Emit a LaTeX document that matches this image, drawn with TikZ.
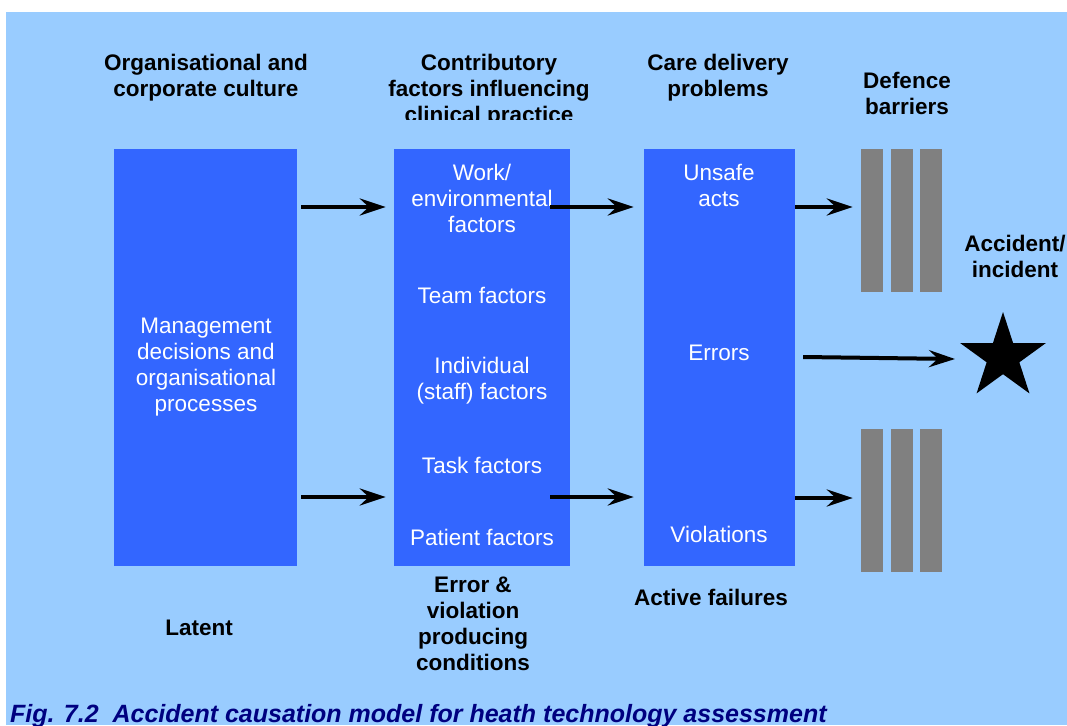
\documentclass[tikz,border=0pt]{standalone}
\usepackage{fontspec}
\setmainfont{Liberation Sans}
\usetikzlibrary{arrows.meta,shapes.geometric}
\definecolor{bgblue}{HTML}{99CCFF}
\definecolor{boxblue}{HTML}{3366FF}
\definecolor{bargray}{HTML}{808080}
\definecolor{capnavy}{HTML}{000080}
\begin{document}
\begin{tikzpicture}[x=1pt,y=-1pt,
  hdr/.style={font=\bfseries\fontsize{22.5}{26}\selectfont, align=center, inner sep=0pt},
  btxt/.style={text=white, font=\fontsize{22.5}{26}\selectfont, align=center, inner sep=0pt},
  bluebox/.style={fill=boxblue, draw=none, inner sep=0pt, minimum height=417pt},
  barrier/.style={fill=bargray, draw=none, inner sep=0pt, minimum width=22pt, minimum height=143pt},
  arr/.style={line width=4pt, -{Stealth[length=26pt,width=17pt,inset=9pt]}}
]
\useasboundingbox (0,0) rectangle (1067,725);
\fill[bgblue] (6,12) rectangle (1067,725);

% main boxes
\node[bluebox, minimum width=183pt] (L) at (205.5,357.5) {};
\node[bluebox, minimum width=176pt] (M) at (482,357.5) {};
\node[bluebox, minimum width=151pt] (C) at (719.5,357.5) {};

% barriers
\node[barrier] (b1) at (872,220.5) {};
\node[barrier] (b2) at (902,220.5) {};
\node[barrier] (b3) at (931,220.5) {};
\node[barrier] (b4) at (872,500.5) {};
\node[barrier] (b5) at (902,500.5) {};
\node[barrier] (b6) at (931,500.5) {};

% star
\node[star, star points=5, star point ratio=2.618, fill=black, draw=none,
      minimum size=90pt, inner sep=0pt] (S) at (1003,357) {};

% headers
\node[hdr] (h1) at (206,78) {Organisational and\\corporate culture};
\begin{scope}
  \clip (380,20) rectangle (600,119);
  \node[hdr] (h2) at (489,91) {Contributory\\factors influencing\\clinical practice};
\end{scope}
\node[hdr] (h3) at (718,78) {Care delivery\\problems};
\node[hdr] (h4) at (907,93) {Defence\\barriers};
\node[hdr] (h5) at (1015,256) {Accident/\\incident};
\node[hdr] (h6) at (199,628) {Latent};
\node[hdr] (h7) at (473,624) {Error \&\\violation\\producing\\conditions};
\node[hdr] (h8) at (711,597) {Active failures};

% box texts
\node[btxt] (t1) at (206,367) {Management\\decisions and\\organisational\\processes};
\node[btxt] (t2) at (482,198) {Work/\\environmental\\factors};
\node[btxt] (t3) at (482,295) {Team factors};
\node[btxt] (t4) at (482,381) {Individual\\(staff) factors};
\node[btxt] (t5) at (482,465) {Task factors};
\node[btxt] (t6) at (482,537) {Patient factors};
\node[btxt] (t7) at (719,185) {Unsafe\\acts};
\node[btxt] (t8) at (719,353) {Errors};
\node[btxt] (t9) at (719,534) {Violations};

% caption
\node[anchor=base west, inner sep=0pt, text=capnavy,
      font=\bfseries\itshape\fontsize{25}{28}\selectfont] (cap) at (10,722)
  {Fig. 7.2\ \ Accident causation model for heath technology assessment};

% arrows
\coordinate (r1) at (0,207);
\coordinate (r2) at (0,497);
\draw[arr, shorten <=4pt, shorten >=8pt] (L.east |- r1) -- (M.west |- r1);
\draw[arr, shorten <=4pt, shorten >=8pt] (L.east |- r2) -- (M.west |- r2);
\draw[arr, shorten <=-20pt, shorten >=10pt] (M.east |- r1) -- (C.west |- r1);
\draw[arr, shorten <=-20pt, shorten >=10pt] (M.east |- r2) -- (C.west |- r2);
\draw[arr, shorten >=8pt] (C.east |- r1) -- (b1.west |- r1);
\draw[arr, shorten >=8pt] (C.east |- 0,498) -- (b4.west |- 0,498);
\draw[arr] ([shift={(8pt,0.5pt)}]C.east) -- ([shift={(-48pt,-2pt)}]S.center);
\end{tikzpicture}
\end{document}
